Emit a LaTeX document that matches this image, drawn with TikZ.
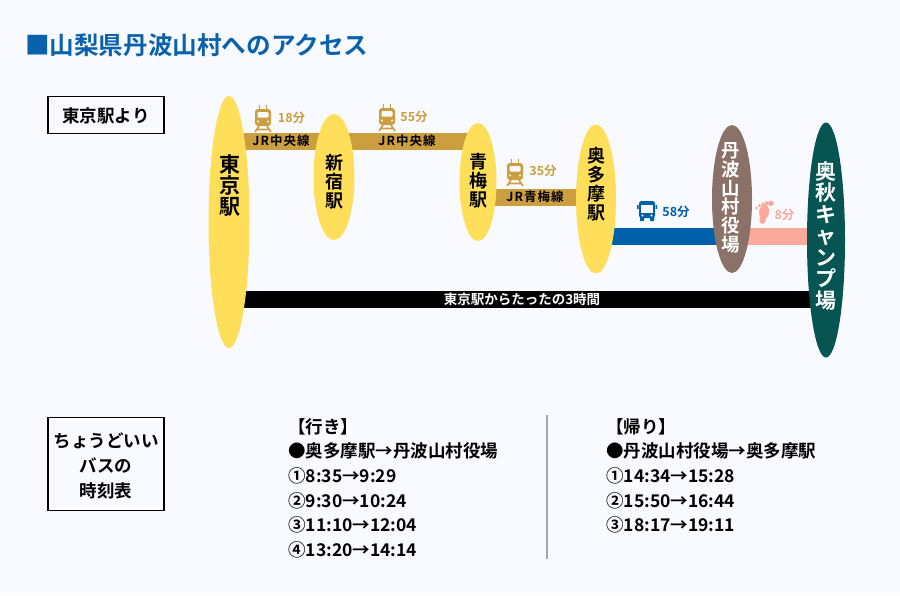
\documentclass[tikz,border=0pt]{standalone}
\usepackage{fontspec}
\setmainfont{Noto Sans CJK JP}[BoldFont={Noto Sans CJK JP Bold}]
\usetikzlibrary{shapes.geometric}
\definecolor{bg}{HTML}{F9FAFF}
\definecolor{ylw}{HTML}{FFDE59}
\definecolor{gold}{HTML}{CB9F40}
\definecolor{blu}{HTML}{0160AB}
\definecolor{pnk}{HTML}{FBA99A}
\definecolor{brn}{HTML}{8A7268}
\definecolor{grn}{HTML}{065553}
\definecolor{ttl}{HTML}{0B62AC}
\definecolor{grayln}{HTML}{A6A6A6}
\tikzset{x=1pt,y=-1pt,
  stn/.style={ellipse,fill=ylw,inner sep=0pt,text=black,font=\bfseries},
  seg/.style={line width=17pt},
  lbl/.style={font=\bfseries\fontsize{12.5}{14}\selectfont,inner sep=0pt},
  seglbl/.style={font=\bfseries\fontsize{12.5}{14}\selectfont,inner sep=0pt,text=black},
  infobox/.style={draw=black,line width=1.5pt,fill=bg,inner sep=0pt},
  infotext/.style={align=center,font=\bfseries\fontsize{17.5}{25}\selectfont,inner sep=0pt},
  tt/.style={anchor=north west,align=left,inner sep=0pt,font=\bfseries\fontsize{17.5}{24.7}\selectfont},
}
\newcommand{\trainicon}[3]{%
  \begin{scope}[shift={(#1,#2)},x=1pt,y=-1pt]
    \fill[#3,rounded corners=3pt] (-8,-9) rectangle (8,8);
    \fill[bg,rounded corners=1pt] (-5.5,-6) rectangle (5.5,-0.5);
    \fill[bg] (-5,3.5) circle (1.2) (5,3.5) circle (1.2);
    \draw[#3,line width=1.4pt] (-3.5,-9) -- (-3.5,-13) (3.5,-9) -- (3.5,-13);
    \draw[#3,line width=1.6pt] (-4,8) -- (-8,14) (4,8) -- (8,14) (-6,11.5) -- (6,11.5);
  \end{scope}}
\newcommand{\busicon}[2]{%
  \begin{scope}[shift={(#1,#2)},x=1pt,y=-1pt]
    \fill[blu,rounded corners=2.5pt] (-8,-10) rectangle (8,7);
    \fill[bg] (-6,-6.5) rectangle (6,1.5);
    \fill[bg] (-4.5,4.5) circle (1.2) (4.5,4.5) circle (1.2);
    \fill[blu] (-7,6) rectangle (-3,10) (3,6) rectangle (7,10);
    \fill[blu] (-10,-6) rectangle (-8.5,-2) (8.5,-6) rectangle (10,-2);
  \end{scope}}
\newcommand{\footicon}[2]{%
  \begin{scope}[shift={(#1,#2)},x=1pt,y=-1pt]
    \fill[pnk,rotate=-8] (0,0) ellipse (5 and 7.5);
    \fill[pnk] (-1.5,7.5) ellipse (3.2 and 4.5);
    \fill[bg] (-6,4.5) ellipse (1.8 and 2.8);
    \fill[pnk] (-7.5,-4) circle (1.5) (-4.5,-6.5) circle (1.7) (-1,-8) circle (1.8) (2.7,-8.8) circle (2) (7,-8.6) circle (2.7);
  \end{scope}}
\begin{document}
\begin{tikzpicture}
\useasboundingbox[fill=bg] (0,0) rectangle (900,595);
% title
\node[anchor=west,inner sep=0pt,text=ttl,font=\bfseries\fontsize{24.6}{28}\selectfont] (title) at (25,45) {■山梨県丹波山村へのアクセス};
% info boxes
\node[infobox,minimum width=116pt,minimum height=37pt] (from) at (106,115) {};
\node[infotext] (fromtext) at (106,115.7) {東京駅より};
\node[infobox,minimum width=116pt,minimum height=93pt] (bus) at (106,464) {};
\node[infotext] (bustext) at (106,466) {ちょうどいい\\バスの\\時刻表};
% segment ends
\coordinate (s1a) at (240,141); \coordinate (s1b) at (325,141);
\coordinate (s2a) at (345,141); \coordinate (s2b) at (470,141);
\coordinate (s3a) at (490,197); \coordinate (s3b) at (585,197);
\coordinate (s4a) at (605,236); \coordinate (s4b) at (725,236);
\coordinate (s5a) at (740,236); \coordinate (s5b) at (815,236);
\coordinate (s6a) at (240,299); \coordinate (s6b) at (815,299);
\draw[seg,gold] (s1a) -- (s1b);
\draw[seg,gold] (s2a) -- (s2b);
\draw[seg,gold] (s3a) -- (s3b);
\draw[seg,blu] (s4a) -- (s4b);
\draw[seg,pnk] (s5a) -- (s5b);
\draw[seg,black] (s6a) -- (s6b);
% stations
\node[stn,minimum width=41pt,minimum height=252pt] (tokyo) at (229,222) {};
\node[stn,minimum width=41pt,minimum height=126pt] (shinjuku) at (334,177) {};
\node[stn,minimum width=37pt,minimum height=118pt] (ome) at (478,182) {};
\node[stn,minimum width=40pt,minimum height=149pt] (okutama) at (596,199) {};
\node[stn,fill=brn,minimum width=40pt,minimum height=148pt] (tabayama) at (732,199) {};
\node[stn,fill=grn,minimum width=38pt,minimum height=235pt] (camp) at (826,240) {};
% station labels
\node[inner sep=0pt,align=center,font=\bfseries\fontsize{21}{21}\selectfont] (l1) at (229.5,186) {東\\京\\駅};
\node[inner sep=0pt,align=center,font=\bfseries\fontsize{18}{19}\selectfont] (l2) at (334,182) {新\\宿\\駅};
\node[inner sep=0pt,align=center,font=\bfseries\fontsize{18}{19}\selectfont] (l3) at (478.5,181) {青\\梅\\駅};
\node[inner sep=0pt,align=center,font=\bfseries\fontsize{18}{19}\selectfont] (l4) at (596.5,184) {奥\\多\\摩\\駅};
\node[inner sep=0pt,align=center,text=white,font=\bfseries\fontsize{18.5}{18.7}\selectfont] (l5) at (731,198) {丹\\波\\山\\村\\役\\場};
\node[inner sep=0pt,align=center,text=white,font=\bfseries\fontsize{21}{21.5}\selectfont] (l6) at (826,236) {奥\\秋\\キ\\ャ\\ン\\プ\\場};
% segment labels
\node[seglbl] (t1) at (281,141) {J\kern1pt R\kern1pt 中\kern1pt 央\kern1pt 線};
\node[seglbl] (t2) at (407,141) {J\kern1pt R\kern1pt 中\kern1pt 央\kern1pt 線};
\node[seglbl] (t3) at (535,197) {J\kern1pt R\kern1pt 青\kern1pt 梅\kern1pt 線};
\node[inner sep=0pt,text=white,font=\bfseries\fontsize{13.5}{15}\selectfont] (t6) at (522,299) {東京駅からたったの3時間};
% times
\trainicon{263}{118}{gold}
\trainicon{387}{117}{gold}
\trainicon{515}{172}{gold}
\busicon{647}{211}
\footicon{764}{212}
\node[lbl,text=gold] (m1) at (291.5,118) {18分};
\node[lbl,text=gold] (m2) at (414,117) {55分};
\node[lbl,text=gold] (m3) at (543,171) {35分};
\node[lbl,text=blu] (m4) at (676,212) {58分};
\node[lbl,text=pnk] (m5) at (784.5,215) {8分};
% timetable
\node[tt] (go) at (288,418) {【行き】\\●奥多摩駅→丹波山村役場\\①8:35→9:29\\②9:30→10:24\\③11:10→12:04\\④13:20→14:14};
\node[tt] (ret) at (606,418) {【帰り】\\●丹波山村役場→奥多摩駅\\①14:34→15:28\\②15:50→16:44\\③18:17→19:11};
\coordinate (d1) at (547,415); \coordinate (d2) at (547,559);
\draw[grayln,line width=1.5pt] (d1) -- (d2);
\end{tikzpicture}
\end{document}
